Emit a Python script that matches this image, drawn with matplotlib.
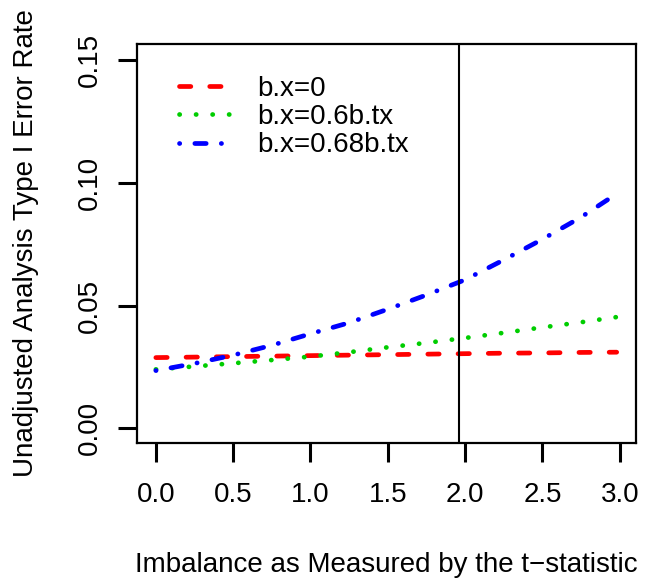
import matplotlib
matplotlib.use("Agg")
import matplotlib.pyplot as plt

plt.rcParams['font.family'] = ['Liberation Sans', 'DejaVu Sans']

# imbalance (t-statistic) grid
t_stat = [0.0, 0.25, 0.5, 0.75, 1.0, 1.25, 1.5, 1.75, 2.0, 2.25, 2.5, 2.75, 2.98]
# type I error rates
err_b0 = [0.0288, 0.0290, 0.0292, 0.0294, 0.0296, 0.0298, 0.0300, 0.0302, 0.0304,
          0.0306, 0.0307, 0.0309, 0.0310]
err_b06 = [0.0240, 0.0252, 0.0265, 0.0278, 0.0292, 0.0310, 0.0330, 0.0348, 0.0368,
           0.0389, 0.0411, 0.0432, 0.0453]
err_b068 = [0.0235, 0.0264, 0.0298, 0.0338, 0.0385, 0.0430, 0.0485, 0.0543, 0.0605,
            0.0686, 0.0770, 0.0860, 0.0955]
labels = ['b.x=0', 'b.x=0.6b.tx', 'b.x=0.68b.tx']
cutoff = 1.96

xticks = [0.0, 0.5, 1.0, 1.5, 2.0, 2.5, 3.0]
yticks = [0.00, 0.05, 0.10, 0.15]

fs = 20
lw = 3.4

fig = plt.figure(figsize=(6.45, 5.8), dpi=100)
ax = fig.add_axes([137.3/645, (580-443.3)/580, (636-137.3)/645, (443.3-44)/580])

ax.plot(t_stat, err_b0, color='#FF0000', lw=lw, dashes=[2.4, 4.0],
        dash_capstyle='round', label=labels[0])
ax.plot(t_stat, err_b06, color='#00CD00', lw=lw, dashes=[0.05, 3.45],
        dash_capstyle='round', label=labels[1])
ax.plot(t_stat, err_b068, color='#0000FF', lw=lw, dashes=[0.05, 3.2, 2.4, 3.2],
        dash_capstyle='round', label=labels[2])
ax.axvline(cutoff, color='black', lw=1.5)

ax.set_xlim(-0.12, 3.105)
ax.set_ylim(-0.0061, 0.1565)

ax.set_xticks(xticks)
ax.set_xticklabels(['%.1f' % v for v in xticks], fontsize=fs)
ax.set_yticks(yticks)
ax.set_yticklabels(['%.2f' % v for v in yticks], fontsize=fs, rotation=90, va='center')
ax.tick_params(axis='both', length=13.5, width=2.2, direction='out')
ax.tick_params(axis='x', pad=14.5)
ax.tick_params(axis='y', pad=11)
for s in ax.spines.values():
    s.set_linewidth(1.6)

fig.text((137.3+636)/2/645, 1-572.3/580, 'Imbalance as Measured by the t\u2212statistic',
         fontsize=fs, ha='center', va='baseline')
fig.text(33.3/645, 1-243.5/580, 'Unadjusted Analysis Type I Error Rate',
         fontsize=fs, ha='center', va='baseline', rotation=90, rotation_mode='anchor')

ax.legend(loc='upper left', bbox_to_anchor=(0.0836, 0.92), frameon=False,
          fontsize=fs, handlelength=1.8, handletextpad=1.0, labelspacing=0.08,
          borderpad=0, borderaxespad=0)

fig.savefig('out.png', dpi=100)
